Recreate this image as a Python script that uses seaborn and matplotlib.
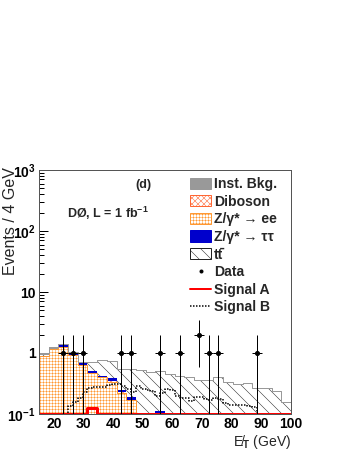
import numpy as np
import pandas as pd
import seaborn as sns
import matplotlib.pyplot as plt
from matplotlib.patches import Patch
from matplotlib.lines import Line2D
from matplotlib.ticker import MultipleLocator, LogLocator, NullFormatter

# 26 bins from 15 to 100 GeV (signal B uses half-width bins)
edges = np.linspace(15, 100, 27)
fine_edges = np.linspace(15, 100, 53)

zee = [0.90, 1.16, 1.24, 0.94, 0.64, 0.47, 0.40, 0.34, 0.225, 0.17,
       0, 0, 0, 0, 0, 0, 0, 0, 0, 0, 0, 0, 0, 0, 0, 0]
diboson = [0, 0, 0, 0, 0.003, 0.003, 0.003, 0.003, 0.002, 0.002,
           0, 0, 0, 0, 0, 0, 0, 0, 0, 0, 0, 0, 0, 0, 0, 0]
ztt = [0, 0, 0.10, 0.05, 0.04, 0.03, 0.02, 0.04, 0.02, 0.015,
       0, 0, 0.113, 0, 0, 0, 0, 0, 0, 0, 0, 0, 0, 0, 0, 0]
ttbar = [0.01, 0.02, 0.02, 0.03, 0.04, 0.22, 0.35, 0.36, 0.30, 0.355,
         0.53, 0.49, 0.40, 0.45, 0.42, 0.40, 0.36, 0.36, 0.41, 0.33,
         0.31, 0.32, 0.27, 0.27, 0.24, 0.16]
inst = [0.09, 0.06, 0.05, 0.03, 0, 0, 0, 0, 0, 0,
        0, 0, 0, 0, 0, 0, 0, 0, 0, 0, 0, 0, 0, 0, 0, 0]
data = [0, 0, 1, 1, 1, 0, 0, 0, 1, 1, 0, 0, 1, 0, 1, 0, 2, 1, 1, 0,
        0, 0, 1, 0, 0, 0]
signal_a = [0.02, 0.02, 0.02, 0.02, 0.02, 0.125, 0.02, 0.02, 0.02, 0.02,
            0.02, 0.02, 0.02, 0.02, 0.02, 0.02, 0.02, 0.02, 0.02, 0.02,
            0.02, 0.02, 0.02, 0.02, 0.02, 0.02]
signal_b = [0.05, 0.05, 0.05, 0.05, 0.05, 0.10, 0.136, 0.16, 0.18, 0.23,
            0.27, 0.28, 0.28, 0.28, 0.30, 0.31, 0.31, 0.29, 0.26, 0.23,
            0.29, 0.26, 0.25, 0.24, 0.20, 0.225, 0.26, 0.25, 0.20, 0.186,
            0.18, 0.165, 0.19, 0.19, 0.175, 0.17, 0.18, 0.175, 0.15, 0.14,
            0.14, 0.14, 0.14, 0.135, 0.13, 0.05, 0.05, 0.05, 0.05, 0.05,
            0.05, 0.05]

labels = ['Inst. Bkg.', 'Diboson', 'Z/γ* → ee', 'Z/γ* → ττ', 'tt\u0304',
          'Data', 'Signal A', 'Signal B']

ymin, ymax = 0.1, 1000

sns.set_theme(style='ticks')
plt.rcParams['font.family'] = ['Liberation Sans', 'DejaVu Sans']
plt.rcParams['font.weight'] = 'bold'
plt.rcParams['mathtext.fontset'] = 'custom'
plt.rcParams['mathtext.rm'] = 'Liberation Sans:bold'
plt.rcParams['mathtext.bf'] = 'Liberation Sans:bold'
plt.rcParams['mathtext.it'] = 'Liberation Sans:bold:italic'
plt.rcParams['hatch.linewidth'] = 0.5

centers = 0.5 * (edges[1:] + edges[:-1])
fine_centers = 0.5 * (fine_edges[1:] + fine_edges[:-1])
widths = np.diff(edges)

fig = plt.figure(figsize=(349 / 72, 451 / 72), dpi=72)
ax = fig.add_axes([39 / 349, 37 / 451, 252 / 349, 244 / 451])

cum = np.cumsum([zee, diboson, ztt, ttbar, inst], axis=0)


def hist(x, w, bins, **kw):
    df = pd.DataFrame({'x': x, 'w': w})
    sns.histplot(data=df, x='x', weights='w', bins=list(bins), element='step',
                 ax=ax, **kw)


hist(centers, cum[4], edges, fill=True, facecolor='#999999', edgecolor='#999999', linewidth=0)
hist(centers, cum[3], edges, fill=True, facecolor='white', edgecolor='#222222', hatch='\\\\', linewidth=0)
hist(centers, cum[2], edges, fill=True, facecolor='#0000cc', edgecolor='#0000cc', linewidth=0)
hist(centers, cum[1], edges, fill=True, facecolor='white', edgecolor='#ff6633', hatch='xxxx', linewidth=0)
hist(centers, cum[0], edges, fill=True, facecolor='white', edgecolor='#ff9933', hatch='++++', linewidth=1)
hist(centers, cum[4], edges, fill=False, color='#999999', linewidth=1)

hist(fine_centers, np.maximum(signal_b, ymin), fine_edges, fill=False, color='black',
     linestyle=(0, (1, 1)), linewidth=1.5)
hist(centers, np.maximum(signal_a, ymin), edges, fill=False, color='red', linewidth=3)

data = np.array(data, dtype=float)
m = data > 0
err = np.sqrt(data[m])
ax.errorbar(centers[m], data[m], xerr=widths[m] / 2, yerr=[err, err],
            fmt='o', color='black', ms=4, lw=1, capsize=0, zorder=5)

ax.set_yscale('log')
ax.set_xlim(15, 100)
ax.set_ylim(ymin, ymax)
ax.set_yticks([0.1, 1, 10, 100, 1000])
ax.set_yticklabels(['10$^{-1}$', '1', '10', '10$^{2}$', '10$^{3}$'])
ax.yaxis.set_minor_locator(LogLocator(subs=np.arange(2, 10)))
ax.yaxis.set_minor_formatter(NullFormatter())
ax.xaxis.set_major_locator(MultipleLocator(10))
ax.xaxis.set_minor_locator(MultipleLocator(2))
ax.tick_params(which='both', direction='in', top=False, right=False,
               labelsize=14, colors='black')
ax.tick_params(which='major', length=9, width=1, pad=3)
ax.tick_params(which='minor', length=5, width=1)
for s in ax.spines.values():
    s.set_color('#555555')
    s.set_linewidth(1)

ax.set_ylabel('Events / 4 GeV', fontsize=16, loc='top')
ax.yaxis.set_label_coords(-0.085, 1.01)
ax.yaxis.label.set_horizontalalignment('right')
ax.set_xlabel('E\u0338$_{\\mathrm{T}}$ (GeV)', fontsize=14, loc='right', labelpad=2)

fig.text(143 / 349, 1 - 185 / 451, '(d)', ha='center', va='center', fontsize=12.5)
fig.text(67 / 349, 1 - 213 / 451, 'DØ, L = 1 fb$^{-1}$', ha='left', va='center',
         fontsize=12.5)

handles = [Patch(facecolor='#999999', edgecolor='#999999'),
           Patch(facecolor='white', edgecolor='#ff6633', hatch='xxxx'),
           Patch(facecolor='white', edgecolor='#ff9933', hatch='++++'),
           Patch(facecolor='#0000cc', edgecolor='#0000cc'),
           Patch(facecolor='white', edgecolor='#222222', hatch='\\\\'),
           Line2D([], [], marker='o', color='black', ls='none', ms=3),
           Line2D([], [], color='red', lw=2),
           Line2D([], [], color='black', ls=(0, (1, 1)), lw=1.5)]
fig.legend(handles, labels, loc='upper left', bbox_to_anchor=(190 / 349, 1 - 177 / 451),
           frameon=False, fontsize=14, handlelength=1.5, handleheight=0.85,
           handletextpad=0.2, labelspacing=0.26, borderpad=0, borderaxespad=0)

fig.savefig('out.png', dpi=72)
